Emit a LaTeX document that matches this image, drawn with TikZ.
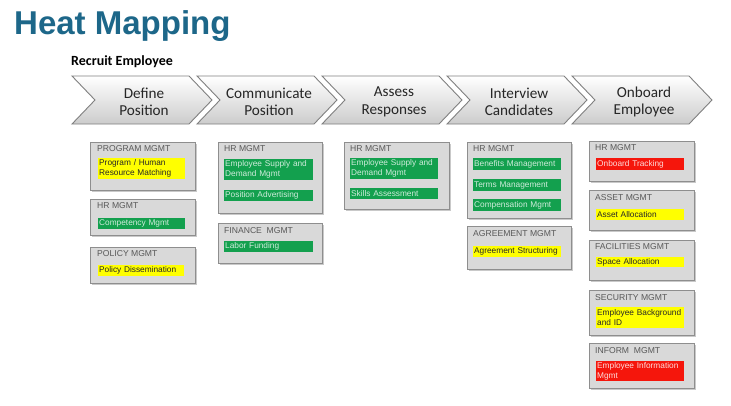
\documentclass[tikz,border=0pt]{standalone}
\usepackage{fontspec}
\setmainfont{Liberation Sans}
\newfontfamily\calibrilike{Carlito}
\usetikzlibrary{shadows}
% labels are never split by hyphenation
\hyphenpenalty=10000
\exhyphenpenalty=10000
\definecolor{titleblue}{HTML}{1D6789}
\definecolor{hmgreen}{HTML}{13A04E}
\definecolor{hmyellow}{HTML}{FFFF00}
\definecolor{hmred}{HTML}{F5160C}
\definecolor{boxgray}{HTML}{D9D9D9}
\definecolor{boxline}{HTML}{8E8E8E}
\begin{document}
\begin{tikzpicture}[x=1pt,y=-1pt,
  chevron/.style={draw=boxline!90!black, line width=0.9pt, top color=white, bottom color=gray!40, line join=miter},
  steptext/.style={align=center, font=\calibrilike\fontsize{15.2}{17.5}\selectfont, text=black!85, inner sep=0},
  mgmtbox/.style={anchor=north west, draw=boxline, fill=boxgray, line width=1.1pt, inner sep=0,
    drop shadow={shadow xshift=1.2pt, shadow yshift=-1.2pt, opacity=0.35, fill=black!60}},
  hdr/.style={anchor=north west, inner sep=0, font=\fontsize{8.6}{9}\selectfont, text=black!65},
  tag/.style={anchor=north west, inner sep=1pt, align=left, text width=#1-2pt, minimum width=#1,
    font=\fontsize{8.3}{10}\selectfont},
  gtag/.style={tag=#1, fill=hmgreen, text=white!80!hmgreen},
  ytag/.style={tag=#1, fill=hmyellow, text=black!85},
  rtag/.style={tag=#1, fill=hmred, text=white!85!hmred},
]
\useasboundingbox[fill=white] (0,0) rectangle (731,405);

% title and process name
\node[anchor=base west, inner sep=0, text=titleblue, font=\bfseries\fontsize{33}{36}\selectfont] (title) at (14,34) {Heat Mapping};
\node[anchor=base west, inner sep=0, font=\calibrilike\bfseries\fontsize{14}{16}\selectfont] (process) at (71,65) {Recruit Employee};

% process chevrons
\foreach \L/\name/\txt in {72/s1/{Define\\Position}, 197/s2/{Communicate\\Position}, 322/s3/{Assess\\Responses}, 447/s4/{Interview\\Candidates}, 572/s5/{Onboard\\Employee}}{
  \draw[chevron] (\L,76) -- (\L+117,76) -- (\L+140,100) -- (\L+117,124) -- (\L,124) -- (\L+23,100) -- cycle;
  \node[steptext] (\name) at (\L+72,102) {\txt};
}

% Define Position
\node[mgmtbox, minimum width=105, minimum height=48] (b11) at (90,142) {};
\node[hdr] (h11) at (97,145) {PROGRAM MGMT};
\node[ytag=87, minimum height=21] (t11) at (98,158) {Program / Human\\Resource Matching};
\node[mgmtbox, minimum width=105, minimum height=36] (b12) at (90,199) {};
\node[hdr] (h12) at (97,202) {HR MGMT};
\node[gtag=87, minimum height=11] (t12) at (98,218) {Competency Mgmt};
\node[mgmtbox, minimum width=105, minimum height=36] (b13) at (90,247) {};
\node[hdr] (h13) at (97,250) {POLICY MGMT};
\node[ytag=86, minimum height=11] (t13) at (98,265) {Policy Dissemination};

% Communicate Position
\node[mgmtbox, minimum width=104, minimum height=71] (b21) at (218,142) {};
\node[hdr] (h21) at (224,145) {HR MGMT};
\node[gtag=89, minimum height=21] (t21) at (224,159) {Employee Supply and\\Demand Mgmt};
\node[gtag=89, minimum height=11] (t22) at (224,190) {Position Advertising};
\node[mgmtbox, minimum width=104, minimum height=40] (b22) at (218,223) {};
\node[hdr] (h22) at (224,227) {FINANCE\ \ MGMT};
\node[gtag=89, minimum height=11] (t23) at (224,241) {Labor Funding};

% Assess Responses
\node[mgmtbox, minimum width=105, minimum height=67] (b31) at (344,142) {};
\node[hdr] (h31) at (350,145) {HR MGMT};
\node[gtag=88, minimum height=21] (t31) at (350,158) {Employee Supply and\\Demand Mgmt};
\node[gtag=88, minimum height=11] (t32) at (350,188) {Skills Assessment};

% Interview Candidates
\node[mgmtbox, minimum width=104, minimum height=76] (b41) at (467,142) {};
\node[hdr] (h41) at (473,145) {HR MGMT};
\node[gtag=88, minimum height=12] (t41) at (473,158) {Benefits Management};
\node[gtag=88, minimum height=12] (t42) at (473,179) {Terms Management};
\node[gtag=88, minimum height=12] (t43) at (473,199) {Compensation Mgmt};
\node[mgmtbox, minimum width=104, minimum height=43] (b42) at (467,226) {};
\node[hdr] (h42) at (473,230) {AGREEMENT MGMT};
\node[ytag=88, minimum height=11] (t44) at (473,246) {Agreement Structuring};

% Onboard Employee
\node[mgmtbox, minimum width=105, minimum height=40] (b51) at (589,141) {};
\node[hdr] (h51) at (595,144) {HR MGMT};
\node[rtag=88, minimum height=12] (t51) at (596,158) {Onboard Tracking};
\node[mgmtbox, minimum width=105, minimum height=40] (b52) at (589,190) {};
\node[hdr] (h52) at (595,194) {ASSET MGMT};
\node[ytag=88, minimum height=11] (t52) at (596,209) {Asset Allocation};
\node[mgmtbox, minimum width=105, minimum height=40] (b53) at (589,240) {};
\node[hdr] (h53) at (595,243) {FACILITIES MGMT};
\node[ytag=88, minimum height=10] (t53) at (596,257) {Space Allocation};
\node[mgmtbox, minimum width=105, minimum height=45] (b54) at (589,290) {};
\node[hdr] (h54) at (595,294) {SECURITY MGMT};
\node[ytag=88, minimum height=21] (t54) at (596,307) {Employee Background\\and ID};
\node[mgmtbox, minimum width=105, minimum height=45] (b55) at (589,343) {};
\node[hdr] (h55) at (595,347) {INFORM\ \ MGMT};
\node[rtag=88, minimum height=20] (t55) at (596,361) {Employee Information\\Mgmt};
\end{tikzpicture}
\end{document}
